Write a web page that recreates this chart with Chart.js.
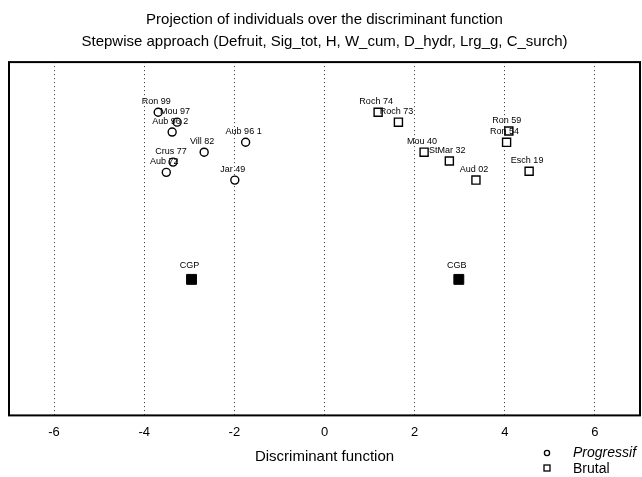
<!DOCTYPE html>
<html>
<head>
<meta charset="utf-8">
<script src="https://cdn.jsdelivr.net/npm/chart.js@4/dist/chart.umd.min.js"></script>
<style>
  html, body { margin: 0; padding: 0; background: #fff; }
  #wrap { width: 642px; height: 477px; }
</style>
</head>
<body>
<div id="wrap"><canvas id="myChart" width="642" height="477"></canvas></div>
<script>
// Progressif individuals
const progNames = ["Ron 99", "Mou 97", "Aub 96 2", "Vill 82", "Aub 96 1", "Crus 77", "Aub 72", "Jar 49"];
const progX = [-3.69, -3.27, -3.38, -2.67, -1.75, -3.36, -3.51, -1.99];
const progY = [8.58, 8.30, 8.02, 7.45, 7.73, 7.17, 6.88, 6.66];

// Brutal individuals
const brutNames = ["Roch 74", "Roch 73", "Mou 40", "StMar 32", "Aud 02", "Ron 59", "Ron 54", "Esch 19"];
const brutX = [1.19, 1.64, 2.21, 2.77, 3.36, 4.09, 4.04, 4.54];
const brutY = [8.58, 8.30, 7.45, 7.20, 6.66, 8.05, 7.73, 6.91];

// group centroids
const cgNames = ["CGP", "CGB"];
const cgX = [-2.95, 2.98];
const cgY = [3.85, 3.85];

const xTicks = [-6, -4, -2, 0, 2, 4, 6];
const titleLines = [
  "Projection of individuals over the discriminant function",
  "Stepwise approach (Defruit, Sig_tot, H, W_cum, D_hydr, Lrg_g, C_surch)"
];
const xTitle = "Discriminant function";
const legendNames = ["Progressif", "Brutal"];

const FONT = "'Liberation Sans', Arial, sans-serif";

const toPoints = (xs, ys) => xs.map((x, i) => ({ x: x, y: ys[i] }));

// draws frame, point labels and the little legend
const extrasPlugin = {
  id: "extras",
  afterDatasetsDraw(chart) {
    const ctx = chart.ctx;
    const area = chart.chartArea;
    ctx.save();

    // frame round the plot
    ctx.strokeStyle = "#000";
    ctx.lineWidth = 2;
    ctx.strokeRect(area.left, area.top, area.right - area.left, area.bottom - area.top);

    // point labels
    ctx.fillStyle = "#000";
    ctx.font = "9px " + FONT;
    ctx.textAlign = "center";
    ctx.textBaseline = "bottom";
    chart.data.datasets.forEach((ds, i) => {
      const meta = chart.getDatasetMeta(i);
      meta.data.forEach((el, j) => {
        const lift = ds.pointRadius > 6 ? 9 : 6;
        ctx.fillText(ds.names[j], el.x - 2, el.y - lift);
      });
    });

    // legend, bottom right
    ctx.lineWidth = 1.3;
    ctx.strokeStyle = "#000";
    ctx.beginPath();
    ctx.arc(547, 453, 2.6, 0, Math.PI * 2);
    ctx.stroke();
    ctx.strokeRect(544, 465, 6, 6);
    ctx.textAlign = "left";
    ctx.textBaseline = "middle";
    ctx.font = "italic 14px " + FONT;
    ctx.fillText(legendNames[0], 573, 453);
    ctx.font = "14px " + FONT;
    ctx.fillText(legendNames[1], 573, 469);

    ctx.restore();
  }
};

const ctx = document.getElementById("myChart").getContext("2d");
const chart = new Chart(ctx, {
  type: "scatter",
  data: {
    datasets: [
      {
        label: legendNames[0],
        names: progNames,
        data: toPoints(progX, progY),
        pointStyle: "circle",
        pointRadius: 4,
        pointBorderWidth: 1.4,
        borderColor: "#000",
        backgroundColor: "#fff"
      },
      {
        label: legendNames[1],
        names: brutNames,
        data: toPoints(brutX, brutY),
        pointStyle: "rect",
        pointRadius: 5.7,
        pointBorderWidth: 1.4,
        borderColor: "#000",
        backgroundColor: "#fff"
      },
      {
        label: "CG",
        names: cgNames,
        data: toPoints(cgX, cgY),
        pointStyle: "rect",
        pointRadius: 7,
        pointBorderWidth: 1,
        borderColor: "#000",
        backgroundColor: "#000"
      }
    ]
  },
  options: {
    responsive: false,
    animation: false,
    layout: { autoPadding: false, padding: { left: 9, right: 2, top: 0, bottom: 0 } },
    plugins: {
      legend: { display: false },
      tooltip: { enabled: false },
      title: {
        display: true,
        text: titleLines,
        color: "#000",
        font: { family: FONT, size: 15, weight: "normal", lineHeight: 1.47 },
        padding: { top: 9, bottom: 9 }
      }
    },
    scales: {
      x: {
        type: "linear",
        min: -7,
        max: 7,
        afterBuildTicks: (scale) => {
          scale.ticks = xTicks.map(v => ({ value: v }));
        },
        grid: {
          color: "#333",
          lineWidth: 1,
          drawTicks: false
        },
        border: { display: false, dash: [1, 3] },
        ticks: {
          color: "#000",
          padding: 9,
          font: { family: FONT, size: 13 }
        },
        title: {
          display: true,
          text: xTitle,
          color: "#000",
          font: { family: FONT, size: 15, lineHeight: 1 },
          padding: { top: 0, bottom: 13 }
        }
      },
      y: {
        display: false,
        min: 0,
        max: 10
      }
    }
  },
  plugins: [extrasPlugin]
});
</script>
</body>
</html>
